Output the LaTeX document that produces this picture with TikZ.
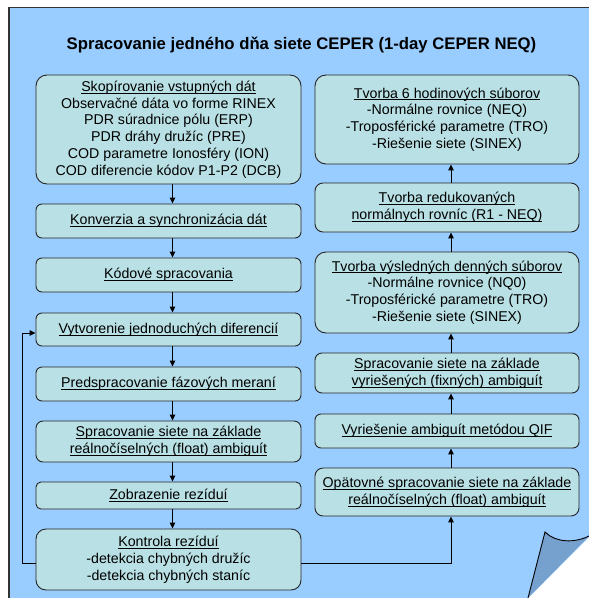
\documentclass[tikz,border=0pt]{standalone}
\usepackage{fontspec}
\setmainfont{Liberation Sans}
\usetikzlibrary{arrows.meta}
\definecolor{bgblue}{RGB}{153,204,255}
\definecolor{boxfill}{RGB}{185,224,228}
\definecolor{foldc}{RGB}{118,160,206}
\newlength\ulw
\newcommand\ulx[1]{\settowidth\ulw{#1}\rlap{\rule[-2.2pt]{\ulw}{0.8pt}}#1}
\begin{document}
\begin{tikzpicture}[x=1pt,y=-1pt,
  box/.style={draw=black!85, line width=0.9pt, fill=boxfill, rounded corners=#1,
    align=center, inner sep=0pt, font=\fontsize{14.2}{16.8}\selectfont},
  box/.default=6pt,
  lw/.style={minimum width=265pt},
  rw/.style={minimum width=264pt},
  arr/.style={-{Triangle[length=6pt,width=5.5pt]}, line width=1pt}]
\useasboundingbox (0,0) rectangle (589,598);
\fill[white] (0,0) rectangle (589,598);
\fill[bgblue] (9,7.5) -- (589,7.5) -- (589,537) -- (528,598) -- (9,598) -- cycle;
\draw[line width=1.2pt, black!80] (9,598) -- (9,7.5) -- (589,7.5);
\fill[foldc] (545,532) .. controls (556,543) and (575,543) .. (589,536) -- (528,598) -- cycle;
\draw[line width=0.9pt] (528,598) -- (545,532) .. controls (556,543) and (575,543) .. (589,536);

\node[font=\fontsize{16.7}{20}\selectfont\bfseries] (title) at (301.5,45) {Spracovanie jedného dňa siete CEPER (1-day CEPER NEQ)};

% left column
\node[box=11pt, lw, minimum height=109pt] (l1) at (168.5,129.5) {\ulx{Skopírovanie vstupných dát}\\ Observačné dáta vo forme RINEX\\ PDR súradnice pólu (ERP)\\ PDR dráhy družíc (PRE)\\ COD parametre Ionosféry (ION)\\ COD diferencie kódov P1-P2 (DCB)};
\node[box, lw, minimum height=34pt] (l2) at (168.5,221) {\ulx{Konverzia a synchronizácia dát}};
\node[box, lw, minimum height=34pt] (l3) at (168.5,275) {\ulx{Kódové spracovania}};
\node[box, lw, minimum height=33pt] (l4) at (168.5,329.5) {\ulx{Vytvorenie jednoduchých diferencií}};
\node[box, lw, minimum height=34pt] (l5) at (168.5,384) {\ulx{Predspracovanie fázových meraní}};
\node[box=7pt, lw, minimum height=41pt] (l6) at (168.5,441.5) {\ulx{Spracovanie siete na základe}\\ \ulx{reálnočíselných (float) ambiguít}};
\node[box=5pt, lw, minimum height=27pt] (l7) at (168.5,495.5) {\ulx{Zobrazenie rezíduí}};
\node[box=10pt, lw, minimum height=61pt] (l8) at (168.5,559.5) {\ulx{Kontrola rezíduí}\\ -detekcia chybných družíc\\ -detekcia chybných staníc};

% right column
\node[box=11pt, rw, minimum height=89pt] (r1) at (447,119.5) {\ulx{Tvorba 6 hodinových súborov}\\ -Normálne rovnice (NEQ)\\ -Troposférické parametre (TRO)\\ -Riešenie siete (SINEX)};
\node[box=8pt, rw, minimum height=49pt] (r2) at (447,207.5) {\ulx{Tvorba redukovaných}\\ \ulx{normálnych rovníc (R1 - NEQ)}};
\node[box=11pt, rw, minimum height=81pt] (r3) at (447,292.5) {\ulx{Tvorba výsledných denných súborov}\\ -Normálne rovnice (NQ0)\\ -Troposférické parametre (TRO)\\ -Riešenie siete (SINEX)};
\node[box=7pt, rw, minimum height=40pt] (r4) at (447,373) {\ulx{Spracovanie siete na základe}\\ \ulx{vyriešených (fixných) ambiguít}};
\node[box, rw, minimum height=34pt] (r5) at (447,431) {\ulx{Vyriešenie ambiguít metódou QIF}};
\node[box=8pt, rw, minimum height=48pt] (r6) at (447,492) {\ulx{Opätovné spracovanie siete na základe}\\ \ulx{reálnočíselných (float) ambiguít}};

% left arrows
\foreach \a/\b in {l1/l2,l2/l3,l3/l4,l4/l5,l5/l6,l6/l7,l7/l8}
  \draw[arr] ([xshift=4pt]\a.south) -- ([xshift=4pt]\b.north);
% right arrows
\foreach \a/\b in {r6/r5,r5/r4,r4/r3,r3/r2,r2/r1}
  \draw[arr] ([xshift=4pt]\a.north) -- ([xshift=4pt]\b.south);
% feedback
\draw[arr] ([yshift=-3.5pt]l8.west) -- ++(-13,0) |- ([yshift=-3.5pt]l4.west);
\draw[arr] ([yshift=-3.5pt]l8.east) -| ([xshift=4pt]r6.south);
\end{tikzpicture}
\end{document}
